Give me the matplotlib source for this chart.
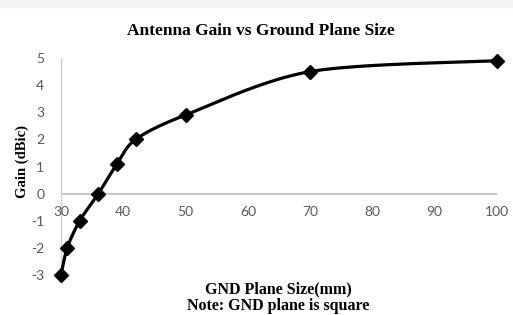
import numpy as np
import matplotlib
matplotlib.use("Agg")
import matplotlib.pyplot as plt
from matplotlib.patches import Rectangle
import matplotlib.transforms as mtrans

plt.rcParams["axes.unicode_minus"] = False

gnd_size = [30, 31, 33, 36, 39, 42, 50, 70, 100]
gain = [-3.0, -2.0, -1.0, 0.0, 1.1, 2.0, 2.9, 4.5, 4.9]
x_ticks = [30, 40, 50, 60, 70, 80, 90, 100]
y_ticks = [-3, -2, -1, 0, 1, 2, 3, 4, 5]

def smooth_curve(xs, ys, n=40, k=0.9):
    P = np.column_stack([xs, ys]).astype(float)
    P = np.vstack([P[0], P, P[-1]])
    out = []
    for i in range(1, len(P) - 2):
        p0, p1, p2, p3 = P[i-1], P[i], P[i+1], P[i+2]
        m1 = 0.5 * (p2 - p0) * k
        m2 = 0.5 * (p3 - p1) * k
        t = np.linspace(0, 1, n)[:, None]
        h00 = 2*t**3 - 3*t**2 + 1
        h10 = t**3 - 2*t**2 + t
        h01 = -2*t**3 + 3*t**2
        h11 = t**3 - t**2
        out.append(h00*p1 + h10*m1 + h01*p2 + h11*m2)
    S = np.vstack(out)
    return S[:, 0], S[:, 1]

fig = plt.figure(figsize=(5.13, 3.15), dpi=100)
fig.patches.append(Rectangle((0, 1 - 7/315), 1, 7/315, transform=fig.transFigure,
                             color="#f3f5f4", zorder=0))
ax = fig.add_axes([61/513, 1 - 275/315, (497-61)/513, (275-58)/315])
ax.set_xlim(30, 100)
ax.set_ylim(-3, 5)

sx, sy = smooth_curve(gnd_size, gain)
ax.plot(sx, sy, color="black", lw=2.3, solid_capstyle="round", zorder=3, clip_on=False)
ax.plot(gnd_size, gain, ls="none", marker="D", ms=7, color="black", zorder=4, clip_on=False)

for s in ["top", "right", "bottom"]:
    ax.spines[s].set_visible(False)
ax.spines["left"].set_color("#d0d0d0")
ax.spines["left"].set_linewidth(1)
ax.axhline(0, color="#c8c8c8", lw=1.5, zorder=1)

ax.set_xticks(x_ticks)
ax.set_yticks(y_ticks)
ax.tick_params(length=0, colors="#595959", labelsize=10)
ax.tick_params(axis="x", labelbottom=False)
off = mtrans.ScaledTranslation(0, -12/100, fig.dpi_scale_trans)
for xt in x_ticks:
    ax.text(xt, 0, str(xt), transform=ax.transData + off, ha="center", va="top",
            fontsize=10, color="#595959", family="Lato")
for lab in ax.get_yticklabels():
    lab.set_family("Lato")
ax.tick_params(axis="y", pad=12)

fig.text(261/513, 1 - 31/315, "Antenna Gain vs Ground Plane Size", ha="center", va="center",
         fontsize=12.5, fontweight="bold", family="Liberation Serif")
fig.text(22/513, 1 - 162/315, "Gain (dBic)", ha="center", va="center", rotation=90,
         fontsize=10.5, fontweight="bold", family="Liberation Serif")
fig.text(278/513, 1 - 289/315, "GND Plane Size(mm)", ha="center", va="center",
         fontsize=11.5, fontweight="bold", family="Liberation Serif")
fig.text(278/513, 1 - 306/315, "Note: GND plane is square", ha="center", va="center",
         fontsize=11.5, fontweight="bold", family="Liberation Serif")

fig.savefig("out.png", dpi=100)
